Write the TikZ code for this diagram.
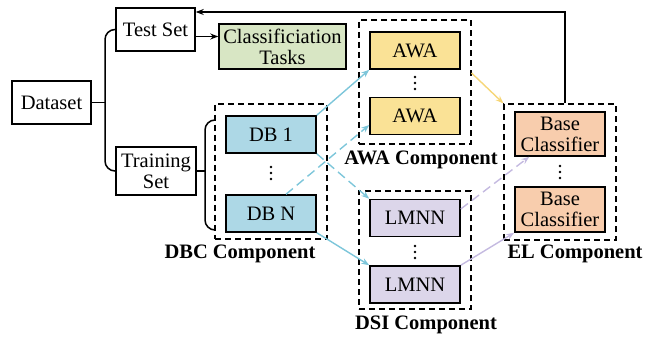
\documentclass[tikz,border=0pt]{standalone}
\usepackage{fontspec}
\setmainfont{Liberation Serif}
\usetikzlibrary{arrows.meta}
\definecolor{dbfill}{RGB}{173,216,230}
\definecolor{awafill}{RGB}{250,226,150}
\definecolor{lmnnfill}{RGB}{220,214,234}
\definecolor{basefill}{RGB}{248,205,173}
\definecolor{taskfill}{RGB}{216,230,196}
\definecolor{linkblue}{RGB}{125,198,218}
\definecolor{linkyellow}{RGB}{246,214,120}
\definecolor{linkpurple}{RGB}{196,186,224}
\begin{document}
\begin{tikzpicture}[x=1pt, y=-1pt, >={Stealth[length=8pt,width=6pt]},
  font=\fontsize{20.5}{21}\selectfont,
  box/.style={draw, line width=1.5pt, minimum width=90pt, minimum height=37pt,
    inner sep=1pt, align=center},
  group/.style={draw, line width=1.1pt, dash pattern=on 6pt off 4pt},
  tag/.style={font=\fontsize{20.5}{21}\selectfont\bfseries},
  link/.style={->, line width=1.4pt},
  dashlink/.style={->, line width=1.4pt, dash pattern=on 9pt off 5pt}]
  \useasboundingbox (0,0) rectangle (657,337);

  % Datos de entrada
  \node[box, minimum width=79pt, minimum height=43pt] (data) at (51.5,102.5) {Dataset};
  \node[box, minimum width=79pt, minimum height=43pt] (test) at (155.5,29.5) {Test Set};
  \node[box, minimum width=80pt, minimum height=48pt] (train) at (156,171) {Training\\Set};
  \node[box, fill=taskfill, minimum width=127pt, minimum height=45pt] (task) at (282.5,46.5)
        {Classificiation\\Tasks};

  % Llaves
  \coordinate (b1) at (105,102.5);
  \draw[line width=1.5pt] (data.east) -- (b1);
  \draw[line width=1.5pt, rounded corners=10pt] (test.west) -- (105,29.5) -- (105,171) -- (train.west);
  \coordinate (b2) at (205,171);
  \draw[line width=1.5pt] (train.east) -- (b2);
  \draw[line width=1.5pt, rounded corners=10pt] (215,120) -- (205,120) -- (205,230) -- (215,230);

  % Componentes
  \node[group, minimum width=112pt, minimum height=135pt] (dbc) at (271,171.5) {};
  \node[group, minimum width=112pt, minimum height=124pt] (awa) at (415,82) {};
  \node[group, minimum width=112pt, minimum height=118pt] (dsi) at (415,250) {};
  \node[group, minimum width=112pt, minimum height=136pt] (el) at (560,172) {};

  \node[box, fill=dbfill] (db1) at (271,134.5) {DB 1};
  \node[box, fill=dbfill] (dbn) at (271,213.5) {DB N};
  \node[box, fill=awafill] (awa1) at (415,50.5) {AWA};
  \node[box, fill=awafill] (awa2) at (415,116) {AWA};
  \node[box, fill=lmnnfill] (lmnn1) at (415,218) {LMNN};
  \node[box, fill=lmnnfill] (lmnn2) at (415,284.5) {LMNN};
  \node[box, fill=basefill, minimum height=44pt] (base1) at (560,134) {Base\\Classifier};
  \node[box, fill=basefill, minimum height=45pt] (base2) at (560,209.5) {Base\\Classifier};

  % Puntos suspensivos
  \foreach \x/\y in {271/173, 415/83, 415/252, 560/172}
    \foreach \d in {-6,0,6}
      \fill (\x,{\y+\d}) circle (1.4pt);

  % Etiquetas
  \node[tag] (dbctag) at (240,254) {DBC Component};
  \node[tag] (awatag) at (421,160) {AWA Component};
  \node[tag] (dsitag) at (426,325) {DSI Component};
  \node[tag] (eltag) at (575,254) {EL Component};

  % Flechas
  \draw[link] ([yshift=-7pt]test.east) -- ([yshift=10pt]task.west);
  \coordinate (fb) at (565,12);
  \draw[link] ([xshift=5pt]el.north) -- (fb) -- (test.east |- fb);

  \draw[link, linkblue] (db1.north east) -- (awa1.south west);
  \draw[dashlink, linkblue] ([xshift=15pt]dbn.north) -- ([yshift=-9pt]awa2.west);
  \draw[dashlink, linkblue] (db1.south east) -- (lmnn1.north west);
  \draw[link, linkblue] (dbn.south east) -- (lmnn2.north west);

  \draw[link, linkyellow] ([yshift=9pt]awa.east) -- (el.north west);
  \draw[dashlink, linkpurple] ([yshift=9pt]lmnn1.east) -- ([xshift=15pt]base1.south west);
  \draw[link, linkpurple] (lmnn2.north east) -- (base2.south west);
\end{tikzpicture}
\end{document}
